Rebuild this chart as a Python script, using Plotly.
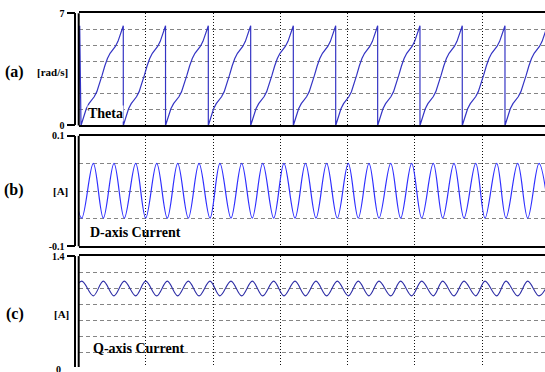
import plotly.graph_objects as go

W, H = 545, 372

# ---------------- data ----------------
T_MAX = 0.6933                      # visible end of the time axis [s]
GRID_T = [0.1, 0.2, 0.3, 0.4, 0.5, 0.6]

# Theta: initial spike, wrap instants, and one ramp profile (fraction of period -> rad)
THETA_START_T = [0.0, 0.0015, 0.0034]
THETA_START_V = [0.0, 6.22, 0.0]
WRAP_T = [0.0663, 0.1291, 0.1927, 0.2557, 0.3191, 0.3821, 0.4445,
          0.5074, 0.5703, 0.6338, 0.6969]
RAMP_F = [0.0, 0.0625, 0.125, 0.1875, 0.25, 0.3125, 0.375, 0.4375, 0.5,
          0.5625, 0.625, 0.6875, 0.75, 0.8125, 0.875, 0.9375, 1.0]
RAMP_V = [0.0, 0.57, 1.04, 1.36, 1.57, 1.79, 2.11, 2.57, 3.14,
          3.71, 4.18, 4.50, 4.71, 4.93, 5.25, 5.71, 6.22]

# D-axis current: peak / trough instants and values
D_T = [-0.0113, 0.0045, 0.0217, 0.0366, 0.0525, 0.0678, 0.0847, 0.0996,
       0.1160, 0.1317, 0.1472, 0.1630, 0.1789, 0.1952, 0.2100, 0.2264,
       0.2423, 0.2581, 0.2736, 0.2899, 0.3052, 0.3216, 0.3372, 0.3528,
       0.3687, 0.3845, 0.4008, 0.4157, 0.4316, 0.4465, 0.4639, 0.4787,
       0.4951, 0.5100, 0.5272, 0.5412, 0.5580, 0.5729, 0.5903, 0.6041,
       0.6215, 0.6353, 0.6527, 0.6676, 0.6844, 0.7001]
D_V = [0.050, -0.049, 0.050, -0.049, 0.050, -0.049, 0.050, -0.049,
       0.050, -0.049, 0.050, -0.049, 0.050, -0.049, 0.050, -0.049,
       0.050, -0.049, 0.050, -0.049, 0.050, -0.049, 0.050, -0.049,
       0.050, -0.049, 0.050, -0.049, 0.050, -0.049, 0.050, -0.049,
       0.050, -0.049, 0.050, -0.049, 0.050, -0.049, 0.050, -0.049,
       0.050, -0.049, 0.050, -0.049, 0.050, -0.049]

# Q-axis current: peak / trough instants and values
Q_T = [-0.0113, 0.0045, 0.0217, 0.0366, 0.0525, 0.0678, 0.0847, 0.0996,
       0.1160, 0.1317, 0.1472, 0.1630, 0.1789, 0.1952, 0.2100, 0.2264,
       0.2423, 0.2581, 0.2736, 0.2899, 0.3052, 0.3216, 0.3372, 0.3528,
       0.3687, 0.3845, 0.4008, 0.4157, 0.4316, 0.4465, 0.4639, 0.4787,
       0.4951, 0.5100, 0.5272, 0.5412, 0.5580, 0.5729, 0.5903, 0.6041,
       0.6215, 0.6353, 0.6527, 0.6676, 0.6844, 0.7001]
Q_V = [0.905, 1.088, 0.905, 1.088, 0.905, 1.088, 0.905, 1.088,
       0.905, 1.088, 0.905, 1.088, 0.905, 1.088, 0.905, 1.088,
       0.905, 1.088, 0.905, 1.088, 0.905, 1.088, 0.905, 1.088,
       0.905, 1.088, 0.905, 1.088, 0.905, 1.088, 0.905, 1.088,
       0.905, 1.088, 0.905, 1.088, 0.905, 1.088, 0.905, 1.088,
       0.905, 1.088, 0.905, 1.088, 0.905, 1.088]

# axis ticks / grid levels
A_RANGE, A_TICKS, A_GRID = [0, 7], [0, 7], [1, 2, 3, 4, 5, 6]
B_RANGE, B_TICKS, B_GRID = [-0.1, 0.1], [-0.1, 0.1], [-0.05, 0.0, 0.05]
C_RANGE, C_TICKS, C_GRID = [0.019, 1.4], [1.4], [0.2, 0.4, 0.6, 0.8, 1.0, 1.2]

# ---------------- build theta polyline from the read values ----------------
tx, ty = list(THETA_START_T), list(THETA_START_V)
starts = [THETA_START_T[-1]] + WRAP_T[:-1]
for s, e in zip(starts, WRAP_T):
    for f, v in zip(RAMP_F, RAMP_V):
        tx.append(s + f * (e - s))
        ty.append(v)
    tx.append(e)
    ty.append(0.0)

# ---------------- layout geometry ----------------
def px_x(p):
    return p / W

def px_y(p):
    return 1 - p / H

XD = [px_x(78.7), 1.0]
BRACKET_X = px_x(75.3)
DOM_A = [px_y(123.1), px_y(7.5)]
DOM_B = [px_y(247.6), px_y(133.8)]
DOM_C = [0.0, px_y(257.7)]

SERIF = "Liberation Serif, Times New Roman, Times, serif"
COL_THETA = "#3434c4"
COL_D = "#3030ff"
COL_Q = "#2e2ea6"

fig = go.Figure()
fig.add_trace(go.Scatter(x=tx, y=ty, mode="lines", xaxis="x", yaxis="y",
                         line=dict(color=COL_THETA, width=1.2), hoverinfo="skip"))
fig.add_trace(go.Scatter(x=D_T, y=D_V, mode="lines", xaxis="x2", yaxis="y2",
                         line=dict(color=COL_D, width=1.2, shape="spline"), hoverinfo="skip"))
fig.add_trace(go.Scatter(x=Q_T, y=Q_V, mode="lines", xaxis="x3", yaxis="y3",
                         line=dict(color=COL_Q, width=1.1, shape="spline"), hoverinfo="skip"))


def xax(anchor, side="bottom", mirror=True):
    return dict(domain=XD, range=[0, T_MAX], anchor=anchor, side=side,
                showline=True, linewidth=2, linecolor="black", mirror=mirror,
                tickmode="array", tickvals=GRID_T, showticklabels=False, ticks="",
                showgrid=True, gridcolor="#111111", griddash="1px,2px", gridwidth=1,
                zeroline=False, fixedrange=True)


def yax(dom, rng, ticks, grid):
    return dict(domain=dom, range=rng, anchor="free", position=BRACKET_X, side="left",
                showline=True, linewidth=1.5, linecolor="black",
                ticks="outside", ticklen=8, tickwidth=2, tickcolor="black",
                tickmode="array", tickvals=ticks,
                ticktext=["<b>%s</b>" % ("%g" % v) for v in ticks],
                tickfont=dict(family=SERIF, size=10, color="black"),
                showgrid=False, zeroline=False, fixedrange=True,
                minor=dict(tickmode="array", tickvals=grid, showgrid=True,
                           gridcolor="#858585", griddash="4px,3px", gridwidth=1, ticks=""))


fig.update_layout(
    width=W, height=H, margin=dict(l=0, r=0, t=0, b=0),
    paper_bgcolor="white", plot_bgcolor="white", showlegend=False,
    xaxis=xax("y"), yaxis=yax(DOM_A, A_RANGE, A_TICKS, A_GRID),
    xaxis2=xax("y2"), yaxis2=yax(DOM_B, B_RANGE, B_TICKS, B_GRID),
    xaxis3=xax("y3", side="top", mirror=False), yaxis3=yax(DOM_C, C_RANGE, C_TICKS, C_GRID),
)

# left frame edge of each plot box
for yr in ["y domain", "y2 domain", "y3 domain"]:
    fig.add_shape(type="line", xref="paper", yref=yr, x0=XD[0], x1=XD[0], y0=0, y1=1,
                  line=dict(color="black", width=2))

def label(text, x, y, size, xanchor="center", bg=None):
    fig.add_annotation(text="<b>%s</b>" % text, xref="paper", yref="paper",
                       x=px_x(x), y=px_y(y), xanchor=xanchor, yanchor="middle",
                       showarrow=False, bgcolor=bg, borderpad=0,
                       font=dict(family=SERIF, size=size, color="black"))

label("(a)", 14, 68, 16)
label("[rad/s]", 52, 68, 11)
label("(b)", 14, 190, 16)
label("[A]", 60.5, 191, 11)
label("(c)", 14.5, 317, 16)
label("[A]", 61, 317, 11)
label("Theta", 87, 110.5, 14, xanchor="left", bg="white")
label("D-axis Current", 89, 233.5, 14, xanchor="left")
label("Q-axis Current", 92, 352.5, 14, xanchor="left")
label("0", 62, 374.5, 10, xanchor="right")

fig.write_html("out.html")
